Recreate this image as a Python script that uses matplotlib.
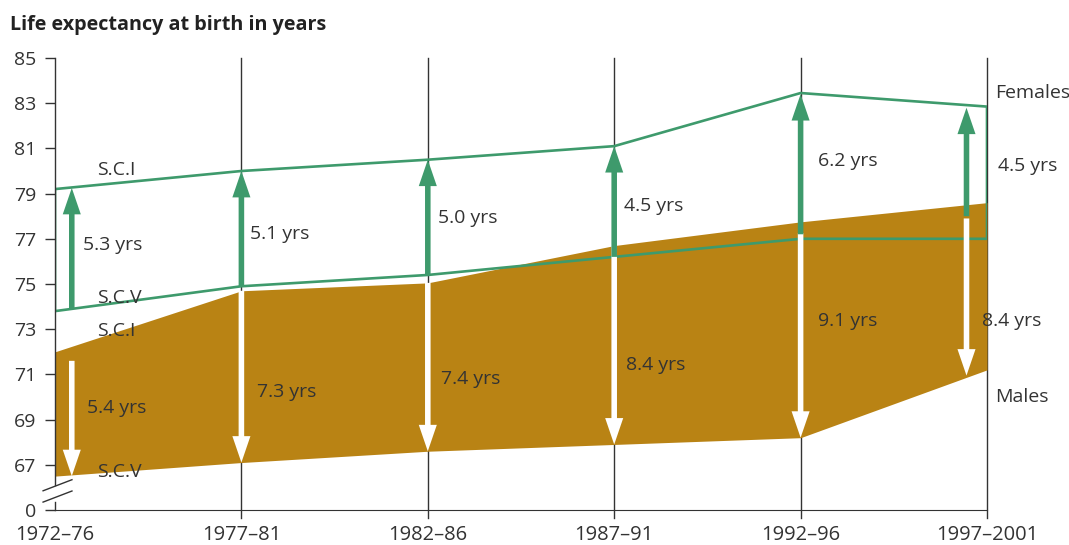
import numpy as np
from matplotlib import pyplot as plt

# periods on the x axis
periods = ['1972–76', '1977–81', '1982–86', '1987–91', '1992–96', '1997–2001']

# females: band between S.C.V (lowest) and S.C.I (highest)
fem_sci = [79.2, 80.0, 80.5, 81.1, 83.45, 82.85]
fem_scv = [73.8, 74.9, 75.4, 76.2, 77.0, 77.0]

# males: band between S.C.I (highest) and S.C.V (lowest)
male_sci = [72.0, 74.7, 75.05, 76.7, 77.75, 78.6]
male_scv = [66.5, 67.1, 67.6, 67.9, 68.2, 71.2]

# gap arrows (start / end values) and labels
fem_arrow_lo = [73.9, 74.9, 75.4, 76.2, 77.2, 78.0]
fem_arrow_hi = [79.25, 80.0, 80.5, 81.1, 83.4, 82.8]
fem_gaps = ['5.3 yrs', '5.1 yrs', '5.0 yrs', '4.5 yrs', '6.2 yrs', '4.5 yrs']
male_arrow_hi = [71.6, 74.7, 75.05, 76.7, 77.25, 77.9]
male_arrow_lo = [66.5, 67.1, 67.6, 67.9, 68.2, 70.95]
male_gaps = ['5.4 yrs', '7.3 yrs', '7.4 yrs', '8.4 yrs', '9.1 yrs', '8.4 yrs']

y_ticks = [65, 67, 69, 71, 73, 75, 77, 79, 81, 83, 85]
y_labels = ['0', '67', '69', '71', '73', '75', '77', '79', '81', '83', '85']

GREEN = '#3e9a6c'
BROWN = '#b98314'
TEXT = '#333333'

plt.rcParams['font.family'] = ['Open Sans', 'DejaVu Sans']


def main():
    fig = plt.figure(figsize=(10.69, 5.45), dpi=100)
    ax = fig.add_axes([55 / 1069, 35 / 545, 932 / 1069, 452 / 545])
    x = np.arange(len(periods))

    # vertical period lines
    for xi in x[1:]:
        ax.plot([xi, xi], [64.65, 85], color=TEXT, lw=1, zorder=0,
                clip_on=False)

    ax.fill_between(x, male_scv, male_sci, color=BROWN, lw=0, zorder=1)
    ax.fill(np.r_[x, x[::-1]], np.r_[fem_sci, fem_scv[::-1]],
            facecolor='none', edgecolor=GREEN, lw=1.9, zorder=2)

    arrow_x = [0.09, 1, 2, 3, 4, 4.89]
    style = 'simple,head_length=19,head_width=13,tail_width=4'
    for ax_, lo, hi in zip(arrow_x, fem_arrow_lo, fem_arrow_hi):
        ax.annotate('', xy=(ax_, hi), xytext=(ax_, lo),
                    arrowprops=dict(arrowstyle=style, mutation_scale=1,
                                    color=GREEN, lw=0, shrinkA=0, shrinkB=0),
                    zorder=4)
    for ax_, hi, lo in zip(arrow_x, male_arrow_hi, male_arrow_lo):
        ax.annotate('', xy=(ax_, lo), xytext=(ax_, hi),
                    arrowprops=dict(arrowstyle=style, mutation_scale=1,
                                    color='white', lw=0, shrinkA=0, shrinkB=0),
                    zorder=3)

    fem_lab_x = [0.15, 1.046, 2.055, 3.053, 4.093, 5.059]
    fem_lab_y = [76.73, 77.2, 77.9, 78.45, 80.44, 80.2]
    male_lab_x = [0.172, 1.084, 2.071, 3.063, 4.093, 4.973]
    male_lab_y = [69.5, 70.2, 70.8, 71.4, 73.36, 73.36]
    for lx, ly, s in zip(fem_lab_x, fem_lab_y, fem_gaps):
        ax.text(lx, ly, s, fontsize=14, color=TEXT, va='center', ha='left',
                clip_on=False, zorder=5)
    for lx, ly, s in zip(male_lab_x, male_lab_y, male_gaps):
        ax.text(lx, ly, s, fontsize=14, color=TEXT, va='center', ha='left',
                clip_on=False, zorder=5)

    for ly, s in [(80.04, 'S.C.I'), (74.4, 'S.C.V'), (72.9, 'S.C.I'),
                  (66.7, 'S.C.V')]:
        ax.text(0.225, ly, s, fontsize=14, color=TEXT, va='center',
                ha='left', zorder=5)
    ax.text(5.043, 83.45, 'Females', fontsize=14, color=TEXT, va='center',
            ha='left', clip_on=False)
    ax.text(5.043, 70.0, 'Males', fontsize=14, color=TEXT, va='center',
            ha='left', clip_on=False)

    ax.set_xlim(0, 5)
    ax.set_ylim(65, 85)
    ax.set_xticks(x)
    ax.set_xticklabels(periods, fontsize=14.5, color=TEXT)
    ax.set_yticks(y_ticks)
    ax.set_yticklabels(y_labels, fontsize=14, color=TEXT)
    ax.tick_params(axis='y', length=7.2, width=1, pad=6, color=TEXT)
    ax.tick_params(axis='x', length=0, pad=11)

    for side in ['top', 'right', 'left']:
        ax.spines[side].set_visible(False)
    ax.spines['bottom'].set_color(TEXT)

    # broken y axis
    ax.plot([0, 0], [66.1, 85], color=TEXT, lw=1, clip_on=False)
    ax.plot([0, 0], [65, 65.35], color=TEXT, lw=1, clip_on=False)
    ax.plot([-0.064, 0.091], [65.85, 66.34], color=TEXT, lw=1, clip_on=False)
    ax.plot([-0.064, 0.091], [65.35, 65.84], color=TEXT, lw=1, clip_on=False)

    fig.text(10 / 1069, 1 - 25 / 545, 'Life expectancy at birth in years',
             fontsize=14.2, fontweight='bold', color='#222222',
             va='center', ha='left')

    fig.savefig('out.png', dpi=100)


if __name__ == '__main__':
    main()
